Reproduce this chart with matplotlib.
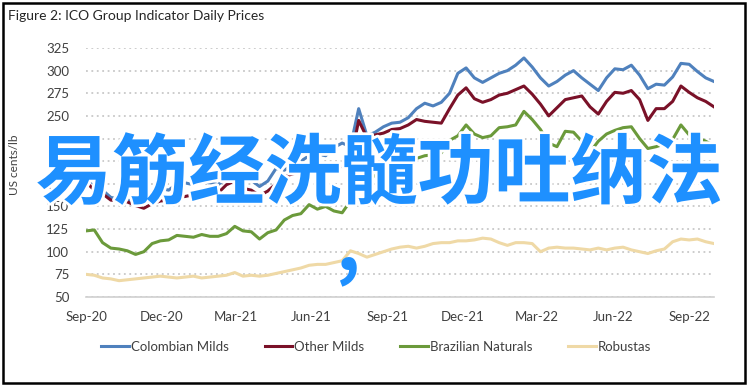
import matplotlib
matplotlib.use("Agg")
import matplotlib.pyplot as plt
import matplotlib.dates as mdates
import matplotlib.patheffects as pe
from matplotlib.patches import Rectangle
import pandas as pd

# 10-day sampling from Sep 2020 to end Sep 2022
dates = pd.date_range("2020-09-01", periods=77, freq="10D")

colombian_milds = [182, 175, 168, 160, 158, 157, 156, 154, 160, 170,
                   168, 175, 176, 174, 177, 176, 174, 182, 180, 179,
                   179, 172, 178, 192, 190, 196, 200, 206, 208, 206,
                   215, 220, 216, 258, 228, 232, 238, 242, 243, 248,
                   258, 264, 261, 265, 275, 297, 303, 292, 287, 292,
                   297, 300, 306, 314, 304, 292, 283, 288, 295, 300,
                   292, 285, 278, 292, 302, 301, 306, 295, 280, 285,
                   284, 293, 308, 307, 299, 292, 288]

other_milds = [177, 168, 164, 157, 156, 155, 151, 148, 153, 156,
               157, 160, 161, 163, 164, 165, 165, 174, 178, 170,
               168, 162, 167, 175, 183, 186, 188, 190, 190, 190,
               197, 194, 200, 245, 226, 229, 231, 235, 236, 240,
               246, 244, 243, 242, 258, 273, 281, 269, 265, 268,
               273, 275, 279, 283, 274, 263, 250, 259, 268, 270,
               272, 260, 252, 266, 276, 275, 278, 268, 245, 258,
               258, 266, 283, 276, 270, 266, 260]

brazilian_naturals = [123, 124, 110, 104, 103, 101, 97, 100, 109, 112,
                      113, 118, 117, 116, 119, 117, 117, 120, 128, 123,
                      122, 114, 121, 124, 135, 140, 142, 152, 147, 150,
                      145, 143, 156, 196, 180, 184, 187, 190, 188, 195,
                      203, 206, 207, 209, 223, 228, 240, 230, 226, 228,
                      237, 238, 240, 255, 246, 235, 220, 216, 233, 232,
                      222, 210, 222, 230, 234, 237, 238, 225, 214, 216,
                      219, 224, 240, 229, 226, 222, 217]

robustas = [75, 74, 71, 70, 68, 69, 70, 71, 72, 73,
            72, 71, 72, 73, 71, 72, 73, 74, 77, 73,
            74, 73, 74, 76, 78, 80, 82, 85, 86, 86,
            88, 90, 101, 98, 94, 97, 100, 103, 105, 106,
            104, 106, 109, 110, 110, 112, 112, 113, 115, 114,
            110, 107, 110, 110, 109, 100, 104, 105, 104, 104,
            103, 102, 104, 102, 104, 105, 102, 100, 98, 101,
            103, 111, 114, 113, 114, 111, 109]

series_names = ["Colombian Milds", "Other Milds", "Brazilian Naturals", "Robustas"]
series_colors = ["#4f81bd", "#7a1128", "#6b9a3b", "#efd9a6"]
y_ticks = [50, 75, 100, 125, 150, 175, 200, 225, 250, 275, 300, 325]

plt.rcParams["font.family"] = ["Lato", "DejaVu Sans"]

fig = plt.figure(figsize=(7.48, 3.87), dpi=100)
ax = fig.add_axes([0.115, 0.2326, 0.8395, 0.6434])

for vals, name, col in zip([colombian_milds, other_milds, brazilian_naturals, robustas],
                           series_names, series_colors):
    ax.plot(dates, vals, color=col, lw=2.2, label=name, zorder=3)

ax.set_ylim(50, 325)
ax.set_yticks(y_ticks)
ax.set_xlim(dates[0], dates[-1])
ax.xaxis.set_major_locator(mdates.MonthLocator(bymonth=[3, 6, 9, 12]))
ax.xaxis.set_major_formatter(mdates.DateFormatter("%b-%y"))

ax.grid(axis="y", linestyle=(0, (1, 2)), color="#c8c8c8", lw=1.3)
ax.set_axisbelow(True)
for s in ["top", "right", "left"]:
    ax.spines[s].set_visible(False)
ax.spines["bottom"].set_color("#d0d0d0")
ax.spines["bottom"].set_linewidth(1.2)
ax.tick_params(length=0, labelsize=9.5, colors="#404040")
ax.tick_params(axis="y", pad=12)
ax.tick_params(axis="x", pad=10)

fig.text(0.019, 0.575, "US cents/lb", rotation=90, ha="center", va="center",
         fontsize=8.5, color="#404040")
fig.text(0.011, 0.958, "Figure 2: ICO Group Indicator Daily Prices", ha="left",
         va="center", fontsize=10, color="#262626")

ax.legend(loc="center", bbox_to_anchor=(0.462, -0.2), ncol=4, frameon=False,
          fontsize=9.5, handlelength=2.1, handletextpad=0.15, columnspacing=2.7,
          labelcolor="#404040")

fig.patches.append(Rectangle((0.004, 0.01), 0.992, 0.982, transform=fig.transFigure,
                             fill=False, edgecolor="black", lw=1.8))

# overlay caption
fig.text(0.507, 0.548, "易筋经洗髓功吐纳法", ha="center", va="center",
         fontsize=55, fontweight="bold", color="#1e90ff",
         family=["Noto Sans CJK SC", "DejaVu Sans"],
         path_effects=[pe.withStroke(linewidth=4, foreground="white")])
fig.text(0.464, 0.36, ",", ha="center", va="center", fontsize=55,
         fontweight="bold", color="#1e90ff", family=["Noto Sans CJK SC", "DejaVu Sans"])

fig.savefig("out.png", dpi=100)
